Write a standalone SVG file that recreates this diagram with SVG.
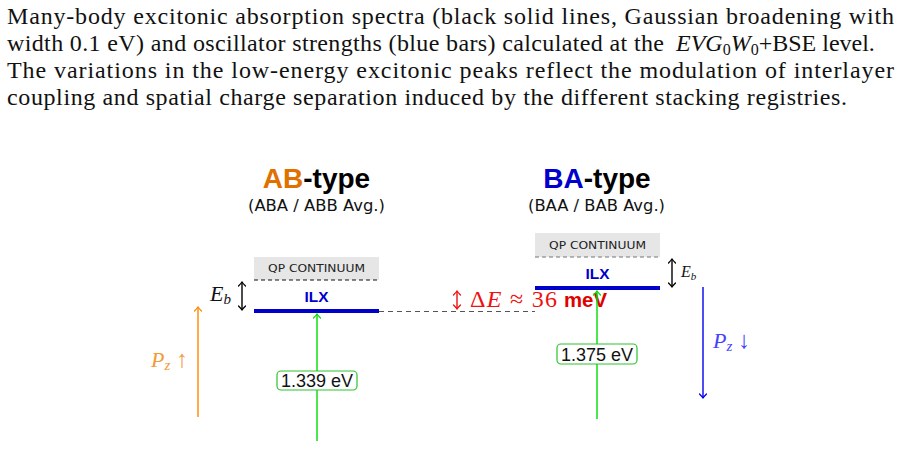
<svg xmlns="http://www.w3.org/2000/svg" width="901" height="449" viewBox="0 0 901 449">
<defs>
<style>
.para{font-family:"Liberation Serif","DejaVu Serif",serif;font-size:24px;fill:#111}
.title{font-family:"Liberation Sans",Arial,sans-serif;font-weight:bold;font-size:28px;fill:#000;text-anchor:middle}
.sub{font-family:"DejaVu Sans","Liberation Sans",sans-serif;font-size:15px;fill:#111;text-anchor:middle}
.qp{fill:#e6e6e6;stroke:none}
.qpt{font-family:"DejaVu Sans","Liberation Sans",sans-serif;font-size:11px;fill:#222;text-anchor:middle}
.ilx{font-family:"Liberation Sans",Arial,sans-serif;font-weight:bold;font-size:14px;fill:#0000cc;text-anchor:middle}
.bar{stroke:#0000cc;stroke-width:4}
.math{font-family:"Liberation Serif","DejaVu Serif",serif;font-style:italic}
.lbl{fill:#fff;stroke:#2ec42e;stroke-width:1.2}
.lblt{font-family:"Liberation Sans",Arial,sans-serif;font-size:18px;fill:#111;text-anchor:middle}
.arr{fill:none;stroke-width:1.4}
</style>
<marker id="mk" viewBox="-5 -4 6 8" refX="0" refY="0" markerWidth="6" markerHeight="8" markerUnits="userSpaceOnUse" orient="auto-start-reverse"><path d="M-4,-3.5 Q-1.5,-1 0,0 Q-1.5,1 -4,3.5" fill="none" stroke="#000" stroke-width="1.3" stroke-linecap="round"/></marker>
<marker id="mr" viewBox="-5 -4 6 8" refX="0" refY="0" markerWidth="6" markerHeight="8" markerUnits="userSpaceOnUse" orient="auto-start-reverse"><path d="M-4,-3.5 Q-1.5,-1 0,0 Q-1.5,1 -4,3.5" fill="none" stroke="#ee1111" stroke-width="1.3" stroke-linecap="round"/></marker>
<marker id="mg" viewBox="-5 -4 6 8" refX="0" refY="0" markerWidth="6" markerHeight="8" markerUnits="userSpaceOnUse" orient="auto-start-reverse"><path d="M-4,-3.5 Q-1.5,-1 0,0 Q-1.5,1 -4,3.5" fill="none" stroke="#00dd00" stroke-width="1.3" stroke-linecap="round"/></marker>
<marker id="mo" viewBox="-5 -4 6 8" refX="0" refY="0" markerWidth="6" markerHeight="8" markerUnits="userSpaceOnUse" orient="auto-start-reverse"><path d="M-4,-3.5 Q-1.5,-1 0,0 Q-1.5,1 -4,3.5" fill="none" stroke="#ff8800" stroke-width="1.3" stroke-linecap="round"/></marker>
<marker id="mb" viewBox="-5 -4 6 8" refX="0" refY="0" markerWidth="6" markerHeight="8" markerUnits="userSpaceOnUse" orient="auto-start-reverse"><path d="M-4,-3.5 Q-1.5,-1 0,0 Q-1.5,1 -4,3.5" fill="none" stroke="#0000ee" stroke-width="1.3" stroke-linecap="round"/></marker>
</defs>
<rect width="901" height="449" fill="#fff"/>

<g id="caption">
<text class="para" x="7" y="24" textLength="887" lengthAdjust="spacing">Many-body excitonic absorption spectra (black solid lines, Gaussian broadening with</text>
<text class="para" x="7" y="51" textLength="657" lengthAdjust="spacing">width 0.1 eV) and oscillator strengths (blue bars) calculated at the</text>
<text class="para" x="676" y="51"><tspan class="math">EVG</tspan><tspan font-size="16" dy="4">0</tspan><tspan class="math" dy="-4">W</tspan><tspan font-size="16" dy="4">0</tspan><tspan dy="-4">+BSE level.</tspan></text>
<text class="para" x="7" y="78" textLength="887" lengthAdjust="spacing">The variations in the low-energy excitonic peaks reflect the modulation of interlayer</text>
<text class="para" x="7" y="105" textLength="840" lengthAdjust="spacing">coupling and spatial charge separation induced by the different stacking registries.</text>
</g>

<g id="ab-title">
<text class="title" x="316.5" y="188"><tspan fill="#e07000">AB</tspan>-type</text>
<text class="sub" x="316.5" y="211" textLength="137" lengthAdjust="spacingAndGlyphs">(ABA / ABB Avg.)</text>
</g>
<g id="ba-title">
<text class="title" x="597" y="188"><tspan fill="#0000cc">BA</tspan>-type</text>
<text class="sub" x="596.5" y="211" textLength="137" lengthAdjust="spacingAndGlyphs">(BAA / BAB Avg.)</text>
</g>

<g id="ab-qp">
<rect class="qp" x="254" y="257" width="125" height="23"/>
<line x1="254" y1="280" x2="379" y2="280" stroke="#111" stroke-width="1.2" stroke-dasharray="4 3"/>
<text class="qpt" x="316.5" y="272" textLength="97" lengthAdjust="spacingAndGlyphs">QP CONTINUUM</text>
</g>
<g id="ab-ilx">
<line class="bar" x1="254" y1="311" x2="379" y2="311"/>
<text class="ilx" x="316.5" y="302" textLength="24" lengthAdjust="spacingAndGlyphs">ILX</text>
</g>
<g id="ab-eb">
<text class="math" x="210" y="301" font-size="22" fill="#111">E<tspan font-size="15" dy="3">b</tspan></text>
</g>

<g id="ba-qp">
<rect class="qp" x="535" y="233" width="125" height="24"/>
<line x1="535" y1="257" x2="660" y2="257" stroke="#777" stroke-width="1.2" stroke-dasharray="4 3"/>
<text class="qpt" x="597.5" y="249" textLength="97" lengthAdjust="spacingAndGlyphs">QP CONTINUUM</text>
</g>
<g id="ba-ilx">
<line class="bar" x1="535" y1="288" x2="660" y2="288"/>
<text class="ilx" x="597.5" y="279" textLength="24" lengthAdjust="spacingAndGlyphs">ILX</text>
</g>
<g id="ba-eb">
<text class="math" x="681" y="277" font-size="16" fill="#111">E<tspan font-size="11" dy="3">b</tspan></text>
</g>

<g id="delta-e">
<text x="470" y="307" font-size="24" fill="#ee1111" font-family="Liberation Serif, DejaVu Serif, serif" textLength="87" lengthAdjust="spacing">Δ<tspan font-style="italic">E</tspan> ≈ 36</text>
<text x="564" y="307" font-family="Liberation Sans, Arial, sans-serif" font-weight="bold" font-size="21" fill="#e00000" textLength="43" lengthAdjust="spacingAndGlyphs">meV</text>
</g>

<g id="pz-up">
<text class="math" x="151" y="367" font-size="22" fill="#f39a3a">P<tspan font-size="15" dy="3">z</tspan><tspan font-style="normal" dy="-3" font-size="24"> ↑</tspan></text>
</g>
<g id="pz-down">
<text class="math" x="713" y="348" font-size="22" fill="#4444ff">P<tspan font-size="15" dy="3">z</tspan><tspan font-style="normal" dy="-3" font-size="24"> ↓</tspan></text>
</g>

<g id="connectors">
<line x1="379" y1="311.5" x2="535" y2="311.5" stroke="#555" stroke-width="1" stroke-dasharray="5 4"/>
<line class="arr" x1="242" y1="282" x2="242" y2="310" stroke="#000" marker-start="url(#mk)" marker-end="url(#mk)"/>
<line class="arr" x1="672" y1="259" x2="672" y2="287" stroke="#000" marker-start="url(#mk)" marker-end="url(#mk)"/>
<line class="arr" x1="457" y1="291" x2="457" y2="309" stroke="#ee1111" marker-start="url(#mr)" marker-end="url(#mr)"/>
<line class="arr" x1="198" y1="417" x2="198" y2="307" stroke="#ff8800" marker-end="url(#mo)"/>
<line class="arr" x1="703" y1="287" x2="703" y2="398" stroke="#0000ee" marker-end="url(#mb)"/>
<line class="arr" x1="317" y1="441" x2="317" y2="314" stroke="#00dd00" marker-end="url(#mg)"/>
<line class="arr" x1="597" y1="419" x2="597" y2="291" stroke="#00dd00" marker-end="url(#mg)"/>
</g>

<g id="lbl-ab">
<rect class="lbl" x="277" y="371" width="80" height="19" rx="4"/>
<text class="lblt" x="317" y="387">1.339 eV</text>
</g>
<g id="lbl-ba">
<rect class="lbl" x="557" y="344" width="80" height="20" rx="4"/>
<text class="lblt" x="597" y="361">1.375 eV</text>
</g>
</svg>
